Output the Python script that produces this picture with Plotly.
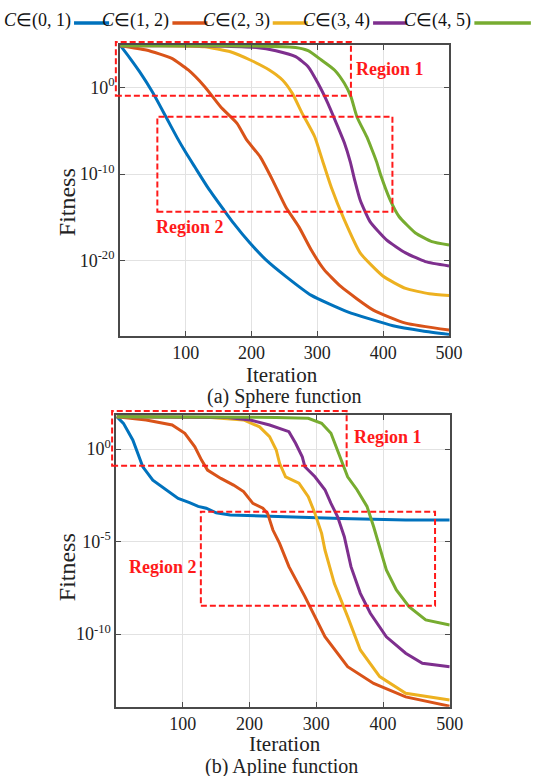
import plotly.graph_objects as go

W, H = 540, 776

# ---------------- data (iteration, log10 fitness) ----------------
labels = ["(0, 1)", "(1, 2)", "(2, 3)", "(3, 4)", "(4, 5)"]
colors = ["#0072BD", "#D95319", "#EDB120", "#7E2F8E", "#77AC30"]

# (a) Sphere function
sph_blue_x = [1, 15, 30, 50, 70, 87, 100, 114, 134, 158, 173, 198, 222, 252, 291, 346, 415, 460, 500]
sph_blue_y = [4.8, 3.4, 1.8, -0.6, -3.4, -5.8, -7.5, -9.2, -11.6, -14.15, -15.7, -18.0, -19.9, -21.8, -24.0, -25.9, -27.5, -28.1, -28.5]
sph_red_x = [1, 40, 79, 104, 129, 153, 178, 193, 213, 232, 252, 272, 291, 310, 336, 385, 434, 500]
sph_red_y = [4.8, 4.3, 3.34, 2.0, 0.07, -2.24, -4.15, -6.1, -8.0, -10.7, -13.8, -16.1, -18.8, -21.0, -23.0, -25.7, -27.2, -28.0]
sph_yel_x = [1, 60, 100, 129, 168, 198, 227, 247, 262, 277, 296, 308, 321, 341, 365, 400, 434, 470, 500]
sph_yel_y = [4.8, 4.79, 4.75, 4.68, 4.1, 3.15, 2.0, 0.84, -0.7, -3.0, -5.7, -8.5, -11.5, -15.3, -19.1, -21.8, -23.2, -23.8, -24.0]
sph_pur_x = [1, 100, 160, 207, 237, 267, 286, 301, 316, 331, 341, 350, 357, 365, 380, 405, 434, 464, 500]
sph_pur_y = [4.8, 4.79, 4.74, 4.6, 4.22, 3.53, 2.38, 0.46, -1.85, -4.54, -6.4, -8.6, -10.8, -13.0, -15.5, -17.6, -19.1, -20.1, -20.6]
sph_grn_x = [1, 150, 220, 267, 286, 306, 326, 341, 351, 360, 375, 383, 390, 397, 410, 424, 449, 474, 500]
sph_grn_y = [4.8, 4.79, 4.74, 4.6, 4.22, 3.15, 2.0, 0.46, -1.08, -3.39, -5.7, -7.2, -8.6, -10.3, -12.9, -14.9, -16.8, -17.8, -18.2]

# (b) Apline function
apl_blue_x = [1, 11, 25, 35, 40, 55, 74, 93, 110, 123, 135, 142, 150, 171, 240, 337, 434, 500]
apl_blue_y = [1.75, 1.39, 0.49, -0.42, -0.96, -1.68, -2.2, -2.67, -2.9, -3.1, -3.2, -3.3, -3.45, -3.57, -3.66, -3.75, -3.84, -3.84]
apl_red_x = [1, 45, 84, 103, 118, 128, 137, 157, 176, 191, 205, 220, 227, 235, 245, 259, 283, 313, 347, 386, 434, 500]
apl_red_y = [1.75, 1.57, 1.3, 0.85, 0.12, -0.6, -1.14, -1.59, -1.95, -2.3, -2.94, -3.2, -3.48, -4.38, -5.1, -6.36, -7.98, -10.15, -11.77, -12.67, -13.4, -13.9]
apl_yel_x = [1, 142, 191, 215, 230, 240, 245, 254, 274, 288, 298, 308, 313, 327, 347, 366, 395, 434, 500]
apl_yel_y = [1.75, 1.71, 1.57, 1.2, 0.67, -0.05, -0.77, -1.5, -1.85, -2.58, -3.48, -4.56, -5.46, -7.26, -9.06, -10.86, -12.3, -13.2, -13.57]
apl_pur_x = [1, 167, 201, 230, 259, 269, 279, 283, 298, 313, 322, 332, 342, 352, 366, 381, 405, 434, 459, 500]
apl_pur_y = [1.75, 1.71, 1.57, 1.3, 0.94, 0.31, -0.42, -0.96, -1.5, -2.2, -2.94, -3.66, -4.74, -6.36, -7.8, -8.88, -10.15, -11.04, -11.58, -11.77]
apl_grn_x = [1, 240, 288, 308, 322, 330, 337, 347, 361, 376, 386, 395, 405, 420, 439, 464, 500]
apl_grn_y = [1.75, 1.71, 1.66, 1.39, 0.85, 0.12, -0.6, -1.5, -2.2, -3.1, -4.2, -5.28, -6.54, -7.62, -8.52, -9.24, -9.51]

# region boxes: (x0, x1, log_y0, log_y1)
sph_regions = [(-6, 351, -0.97, 5.22), (57, 414, -14.35, -3.39)]
apl_regions = [(-6, 345.5, -0.9, 2.05), (127, 478, -8.47, -3.39)]

x_ticks = [100, 200, 300, 400, 500]
sph_yticks = [0, -10, -20]
apl_yticks = [0, -5, -10]

sph_series = [(sph_blue_x, sph_blue_y), (sph_red_x, sph_red_y), (sph_yel_x, sph_yel_y),
              (sph_pur_x, sph_pur_y), (sph_grn_x, sph_grn_y)]
apl_series = [(apl_blue_x, apl_blue_y), (apl_red_x, apl_red_y), (apl_yel_x, apl_yel_y),
              (apl_pur_x, apl_pur_y), (apl_grn_x, apl_grn_y)]

# ---------------- layout geometry (pixels) ----------------
SERIF = "Liberation Serif, Times New Roman, serif"
top_px = dict(l=123, r=461, t=45, b=335.7)
bot_px = dict(l=119.2, r=461.7, t=415, b=706.7)
sph_yrange = [-28.65, 4.88]
apl_yrange = [-13.93, 1.84]
xrange_ = [0, 500]

fig = go.Figure()
for (xs, ys), c, lab in zip(sph_series, colors, labels):
    fig.add_trace(go.Scatter(x=xs, y=[10 ** v for v in ys], mode="lines",
                             line=dict(color=c, width=3, shape="spline", smoothing=0.5),
                             name=lab, xaxis="x", yaxis="y", showlegend=False))
for (xs, ys), c, lab in zip(apl_series, colors, labels):
    fig.add_trace(go.Scatter(x=xs, y=[10 ** v for v in ys], mode="lines",
                             line=dict(color=c, width=3), name=lab,
                             xaxis="x2", yaxis="y2", showlegend=False))


def dom(p):
    return dict(x=[p["l"] / W, p["r"] / W], y=[1 - p["b"] / H, 1 - p["t"] / H])


dt, db = dom(top_px), dom(bot_px)


def sup(e):
    return "10<sup>%s</sup>" % (str(e) if e >= 0 else "-" + str(-e))


axis_common = dict(showline=True, mirror="ticks", linecolor="#4a4a4a", linewidth=1.5,
                   ticks="inside", ticklen=5, tickcolor="#4a4a4a", showgrid=True,
                   gridcolor="#e2e2e2", gridwidth=1, zeroline=False,
                   tickfont=dict(family=SERIF, size=18, color="#222"))

fig.update_layout(
    width=W, height=H, margin=dict(l=0, r=0, t=0, b=0),
    paper_bgcolor="white", plot_bgcolor="white", showlegend=False,
    xaxis=dict(domain=dt["x"], anchor="y", range=xrange_, tickvals=x_ticks, **axis_common),
    yaxis=dict(domain=dt["y"], anchor="x", type="log", range=sph_yrange,
               tickvals=[10 ** e for e in sph_yticks], ticktext=[sup(e) for e in sph_yticks],
               **axis_common),
    xaxis2=dict(domain=db["x"], anchor="y2", range=xrange_, tickvals=x_ticks, **axis_common),
    yaxis2=dict(domain=db["y"], anchor="x2", type="log", range=apl_yrange,
                tickvals=[10 ** e for e in apl_yticks], ticktext=[sup(e) for e in apl_yticks],
                **axis_common),
)

shapes, annots = [], []


def add_regions(regions, xa, ya, yr):
    for (x0, x1, y0, y1) in regions:
        fx = lambda v: (v - xrange_[0]) / (xrange_[1] - xrange_[0])
        fy = lambda v: (v - yr[0]) / (yr[1] - yr[0])
        shapes.append(dict(type="rect", xref=xa + " domain", yref=ya + " domain",
                           x0=fx(x0), x1=fx(x1), y0=fy(y0), y1=fy(y1),
                           line=dict(color="#ff1a1a", width=2, dash="6px,3px"),
                           fillcolor="rgba(0,0,0,0)", layer="above"))


add_regions(sph_regions, "x", "y", sph_yrange)
add_regions(apl_regions, "x2", "y2", apl_yrange)


def ann(text, px, py, size, bold=False, color="#222", angle=0, xanchor="center"):
    annots.append(dict(text="<b>%s</b>" % text if bold else text, x=px / W, y=1 - py / H,
                       xref="paper", yref="paper", showarrow=False, textangle=angle,
                       xanchor=xanchor, yanchor="middle",
                       font=dict(family=SERIF, size=size, color=color)))


# region labels
ann("Region 1", 400, 69, 18, bold=True, color="#ff1a1a")
ann("Region 2", 195, 227, 18, bold=True, color="#ff1a1a")
ann("Region 1", 398, 437, 18, bold=True, color="#ff1a1a")
ann("Region 2", 167, 567, 18, bold=True, color="#ff1a1a")

# axis titles and captions
ann("Fitness", 69, 202, 24, angle=-90)
ann("Iteration", 290, 375, 21)
ann("(a) Sphere function", 292, 396, 20)
ann("Fitness", 69, 567, 24, angle=-90)
ann("Iteration", 293, 744, 21)
ann("(b) Apline function", 289, 766, 20)

# legend: text followed by line segment
leg_line_px = [(76, 112), (177, 213), (280, 316), (383, 418), (487, 545)]
for lab, c, (l0, l1) in zip(labels, colors, leg_line_px):
    ann("<i>C</i>∈" + lab, l0 - 1, 20, 18, xanchor="right", color="#111")
    shapes.append(dict(type="line", xref="paper", yref="paper", x0=l0 / W, x1=l1 / W,
                       y0=1 - 23 / H, y1=1 - 23 / H, line=dict(color=c, width=3.5)))

fig.update_layout(shapes=shapes, annotations=annots)
fig.write_html("out.html")
